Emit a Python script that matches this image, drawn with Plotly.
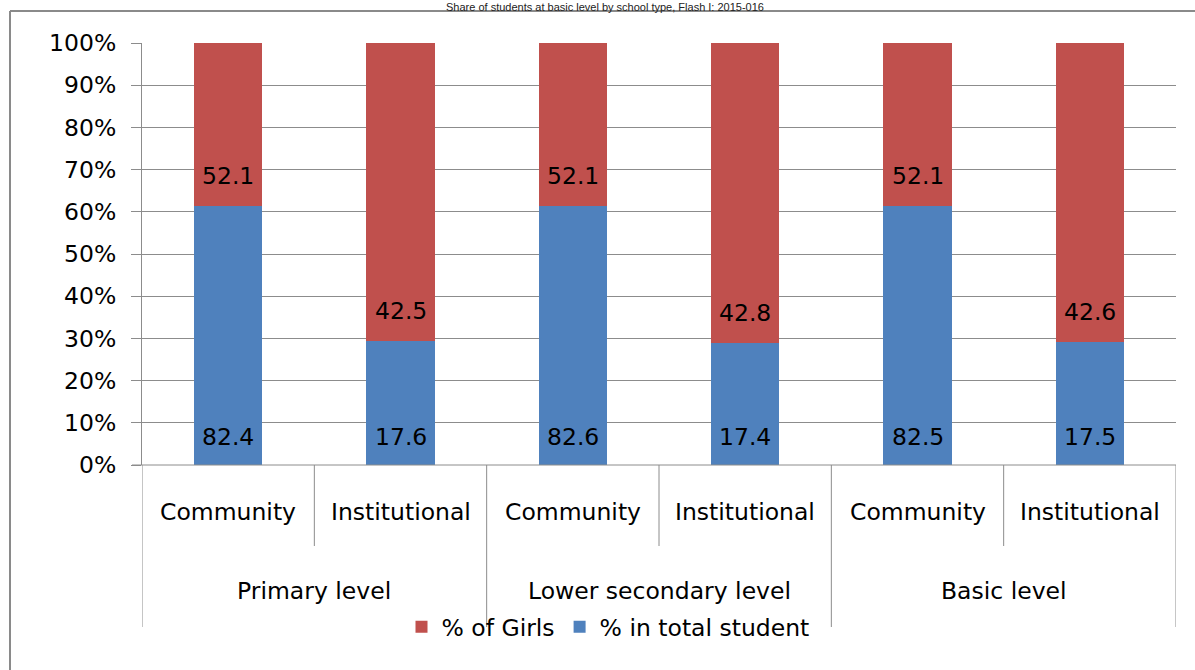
import plotly.graph_objects as go

title_text = "Share of students at basic level by school type, Flash I: 2015-016"
levels = ["Primary level", "Primary level", "Lower secondary level", "Lower secondary level",
          "Basic level", "Basic level"]
school_types = ["Community", "Institutional", "Community", "Institutional", "Community", "Institutional"]
total_share = [82.4, 17.6, 82.6, 17.4, 82.5, 17.5]
girls_share = [52.1, 42.5, 52.1, 42.8, 52.1, 42.6]
y_ticks = [0, 10, 20, 30, 40, 50, 60, 70, 80, 90, 100]
y_tick_labels = [f"{t}%" for t in y_ticks]

BLUE = "#4F81BD"
RED = "#C0504D"
GRID = "#8C8C8C"
FONT = "DejaVu Sans"
FS = 23.5

W, H = 1195, 670
ML, MR, MT, MB = 142, 19, 43, 205
PH = H - MT - MB

def py(p):
    return (H - MB - p) / PH

def px(p):
    return (p - ML) / (W - ML - MR)

cats = list(range(len(school_types)))

fig = go.Figure()
fig.add_trace(go.Bar(
    x=cats, y=total_share, name="% in total student", marker=dict(color=BLUE, line=dict(width=0)),
    hoverinfo="skip",
))
fig.add_trace(go.Bar(
    x=cats, y=girls_share, name="% of Girls", marker=dict(color=RED, line=dict(width=0)),
    hoverinfo="skip",
))

shapes = []
# chart border
shapes.append(dict(type="line", xref="paper", yref="paper", x0=px(10), x1=px(1200), y0=py(11), y1=py(11),
                   line=dict(color="#8A8A8A", width=2)))
shapes.append(dict(type="line", xref="paper", yref="paper", x0=px(10), x1=px(10), y0=py(11), y1=py(680),
                   line=dict(color="#8A8A8A", width=2)))
# category dividers
n = len(school_types)
for i in range(n + 1):
    b = i - 0.5
    if i == 0 or i == n or levels[i] != levels[i - 1]:
        bottom = py(627)
    else:
        bottom = py(546)
    shapes.append(dict(type="line", xref="x", yref="paper", x0=b, x1=b, y0=0, y1=bottom,
                       line=dict(color=GRID, width=1)))
shapes.append(dict(type="line", xref="paper", yref="paper", x0=px(132), x1=1, y0=0, y1=0,
                   line=dict(color=GRID, width=1)))

annotations = []
# data labels, placed near the base of each stacked segment (100% stacked)
for i in cats:
    tot = total_share[i] + girls_share[i]
    blue_top = total_share[i] / tot * 100
    annotations.append(dict(x=i, y=0, xref="x", yref="y", text=f"{total_share[i]:.1f}", showarrow=False,
                            yshift=28, yanchor="middle",
                            font=dict(family=FONT, size=FS, color="#000000")))
    annotations.append(dict(x=i, y=blue_top, xref="x", yref="y", text=f"{girls_share[i]:.1f}",
                            showarrow=False, yshift=30, yanchor="middle",
                            font=dict(family=FONT, size=FS, color="#000000")))
for i, s in enumerate(school_types):
    annotations.append(dict(x=i, y=py(512), xref="x", yref="paper", text=s, showarrow=False,
                            font=dict(family=FONT, size=FS, color="#000000"), yanchor="middle"))
# outer level labels
seen = []
for lv in levels:
    if lv not in seen:
        seen.append(lv)
for lv in seen:
    idx = [i for i, l in enumerate(levels) if l == lv]
    annotations.append(dict(x=(idx[0] + idx[-1]) / 2, y=py(591), xref="x", yref="paper", text=lv,
                            showarrow=False, font=dict(family=FONT, size=FS, color="#000000"),
                            yanchor="middle"))
annotations.append(dict(x=px(605), y=py(0), xref="paper", yref="paper", text=title_text, showarrow=False,
                        font=dict(family="Liberation Sans", size=11, color="#222222"), yanchor="top",
                        borderpad=0))

fig.update_layout(
    width=W, height=H,
    margin=dict(l=ML, r=MR, t=MT, b=MB, pad=0),
    barmode="stack", barnorm="percent", bargap=0.605,
    paper_bgcolor="white", plot_bgcolor="white",
    showlegend=True,
    legend=dict(orientation="h", x=px(608), xanchor="center", y=py(627), yanchor="middle",
                traceorder="reversed", font=dict(family=FONT, size=FS, color="#000000"),
                bgcolor="rgba(0,0,0,0)", itemwidth=30),
    shapes=shapes, annotations=annotations,
    xaxis=dict(type="linear", range=[-0.5, n - 0.5], showticklabels=False, showgrid=False,
               zeroline=False, showline=False, ticks=""),
    yaxis=dict(range=[0, 100], tickvals=y_ticks, ticktext=y_tick_labels, showgrid=True,
               gridcolor=GRID, gridwidth=1, zeroline=False, showline=True, linecolor=GRID, linewidth=1,
               ticks="outside", ticklen=10, tickcolor=GRID,
               tickfont=dict(family=FONT, size=FS, color="#000000"), ticklabelstandoff=10),
    font=dict(family=FONT),
)

fig.write_html("out.html", config={"displayModeBar": False},
               post_script="document.body.style.margin='0';")
